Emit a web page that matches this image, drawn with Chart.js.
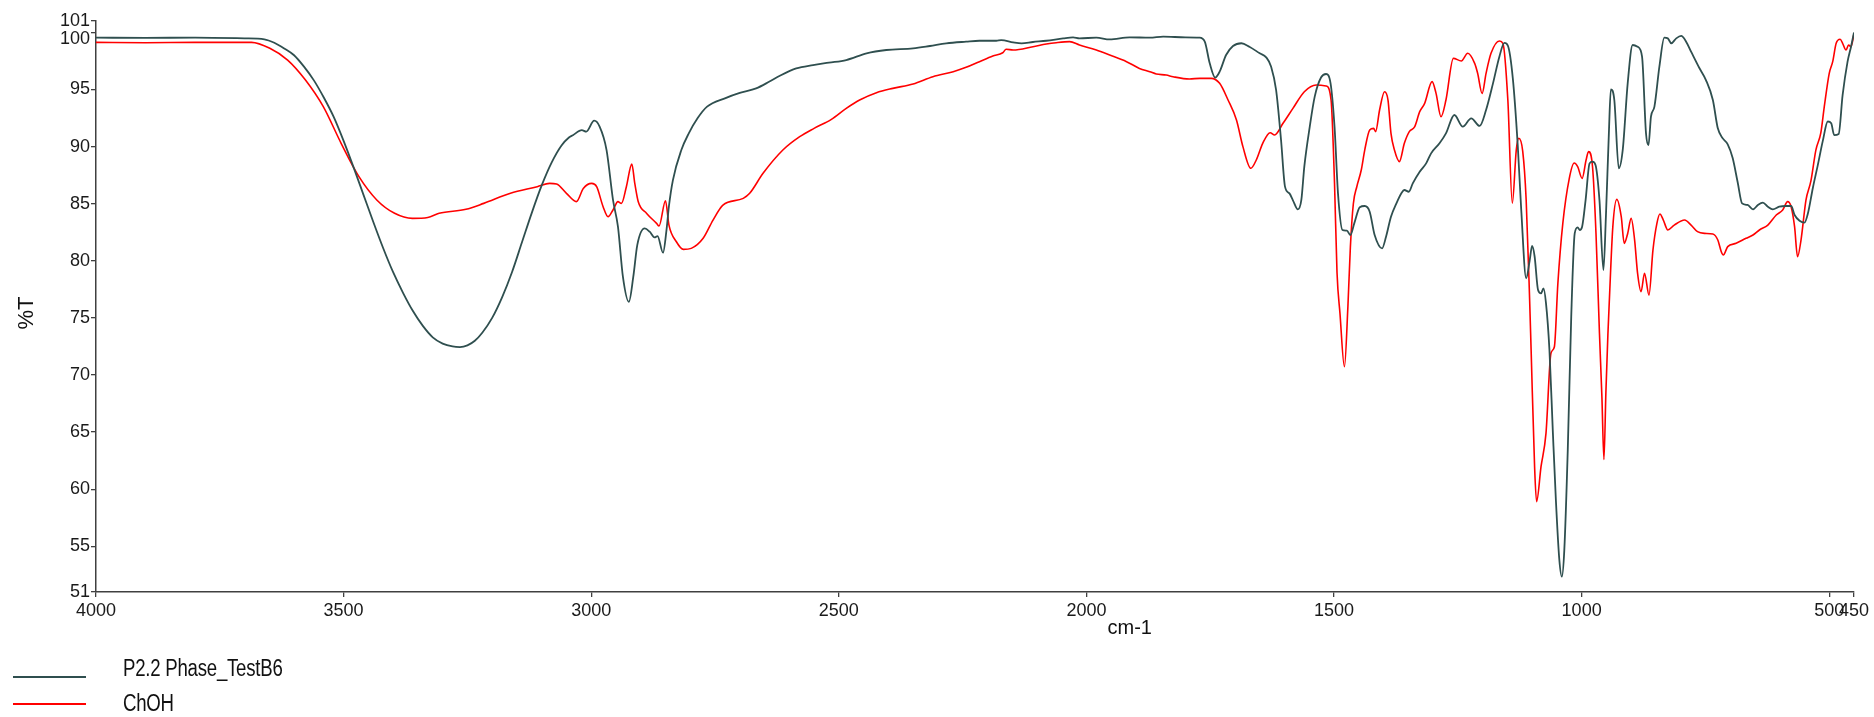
<!DOCTYPE html>
<html>
<head>
<meta charset="utf-8">
<title>FTIR spectra</title>
<script src="https://cdn.jsdelivr.net/npm/chart.js@4.4.1/dist/chart.umd.min.js"></script>
<style>
  html, body { margin: 0; padding: 0; background: #ffffff; }
  #wrap { position: relative; width: 1874px; height: 717px; overflow: hidden; }
  #chart { position: absolute; left: 0; top: 0; }
  .lg-line { position: absolute; left: 13px; width: 73px; height: 2px; }
  .lg-text {
    position: absolute; left: 123px; white-space: nowrap;
    font-family: "Liberation Sans", Arial, sans-serif; font-size: 23px; line-height: 23px;
    color: #111; transform: scaleX(0.81); transform-origin: 0 50%; letter-spacing: -0.3px;
  }
</style>
</head>
<body>
<div id="wrap">
  <canvas id="chart" width="1874" height="717"></canvas>
  <div id="legend"></div>
</div>
<script>
// Series names
const seriesNames = ['P2.2 Phase_TestB6', 'ChOH'];

// P2.2 Phase_TestB6: wavenumber (cm-1) and transmittance (%T)
const sampleWavenumbers = [
  4000, 3900, 3800, 3700, 3660, 3640, 3620, 3600, 3580, 3560, 3540, 3520, 3500, 3480, 3460, 3440,
  3420, 3400, 3380, 3360, 3340, 3320, 3300, 3280, 3265, 3250, 3235, 3220, 3200, 3180, 3160, 3140,
  3120, 3100, 3080, 3060, 3045, 3037, 3019, 3010, 2994, 2983, 2969, 2956, 2946, 2936, 2924, 2915,
  2907, 2892, 2882, 2872, 2866, 2855, 2848, 2843, 2835, 2818, 2803, 2785, 2766, 2730, 2700, 2667,
  2640, 2619, 2586, 2552, 2520, 2485, 2444, 2404, 2350, 2316, 2283, 2243, 2216, 2182, 2172, 2148,
  2131, 2108, 2081, 2047, 2027, 2014, 1980, 1953, 1913, 1872, 1845, 1800, 1772, 1761, 1751, 1740,
  1731, 1718, 1704, 1687, 1671, 1650, 1637, 1627, 1617, 1607, 1599, 1590, 1583, 1573, 1566, 1560,
  1549, 1539, 1526, 1516, 1507, 1499, 1492, 1483, 1474, 1467, 1459, 1448, 1438, 1428, 1418, 1403,
  1395, 1385, 1374, 1364, 1358, 1349, 1341, 1327, 1314, 1304, 1287, 1274, 1257, 1240, 1223, 1206,
  1193, 1179, 1166, 1156, 1149, 1139, 1129, 1122, 1112, 1105, 1100, 1095, 1088, 1082, 1077, 1072,
  1065, 1058, 1052, 1045, 1040, 1035, 1028, 1021, 1014, 1008, 1004, 999, 992, 984, 978, 972,
  964, 956, 951, 945, 941, 934, 925, 917, 907, 897, 887, 878, 870, 865, 860, 853,
  843, 833, 826, 819, 809, 799, 789, 779, 762, 749, 735, 725, 715, 705, 695, 685,
  676, 665, 654, 644, 634, 624, 614, 601, 587, 577, 570, 560, 550, 543, 533, 523,
  513, 503, 496, 490, 481, 473, 463, 456, 450
];
const sampleTransmittance = [
  99.54, 99.52, 99.55, 99.48, 99.40, 99.10, 98.60, 98.00, 97.00, 95.80, 94.30, 92.60, 90.50, 88.20, 85.80, 83.40,
  81.10, 79.00, 77.20, 75.60, 74.30, 73.30, 72.75, 72.50, 72.45, 72.60, 73.00, 73.70, 75.00, 76.80, 79.00, 81.60,
  84.20, 86.60, 88.60, 90.10, 90.80, 91.00, 91.45, 91.31, 92.27, 91.75, 89.70, 85.33, 82.99, 78.61, 76.40, 78.61,
  81.38, 82.84, 82.55, 82.05, 82.17, 80.71, 82.69, 84.80, 87.07, 89.70, 91.16, 92.50, 93.50, 94.23, 94.70, 95.10,
  95.70, 96.21, 96.85, 97.14, 97.35, 97.58, 98.17, 98.46, 98.60, 98.81, 99.04, 99.19, 99.27, 99.27, 99.33, 99.13,
  99.04, 99.16, 99.27, 99.48, 99.57, 99.48, 99.54, 99.39, 99.57, 99.54, 99.63, 99.57, 99.54, 99.19, 97.29, 96.04,
  96.56, 98.02, 98.81, 99.05, 98.75, 98.17, 97.82, 97.00, 94.96, 90.58, 86.50, 85.90, 85.30, 84.50, 85.33, 88.25,
  91.75, 94.38, 96.07, 96.36, 95.54, 91.75, 85.91, 82.70, 82.64, 82.26, 83.30, 84.70, 84.80, 84.30, 82.26, 81.09,
  82.11, 83.86, 85.03, 85.91, 86.20, 86.05, 86.78, 87.80, 88.53, 89.41, 90.29, 91.16, 92.77, 91.75, 92.48, 91.81,
  93.21, 95.54, 97.90, 99.08, 98.85, 96.00, 90.10, 84.50, 78.47, 80.00, 81.30, 80.40, 77.44, 77.15, 77.59, 76.30,
  72.19, 64.89, 59.05, 53.80, 52.34, 54.67, 63.43, 75.11, 82.40, 82.93, 82.70, 82.99, 85.32, 88.53, 88.68, 88.39,
  85.32, 79.19, 83.86, 91.16, 95.02, 94.08, 88.10, 89.71, 95.54, 98.90, 98.75, 97.88, 91.16, 90.14, 92.62, 93.50,
  97.00, 99.54, 99.48, 99.05, 99.48, 99.69, 99.19, 98.32, 96.86, 95.83, 94.08, 91.60, 90.72, 90.20, 89.00, 86.90,
  85.03, 84.89, 84.51, 84.89, 85.09, 84.74, 84.51, 84.74, 84.80, 84.80, 84.01, 83.51, 83.34, 84.16, 86.40, 88.40,
  90.50, 92.20, 92.04, 91.00, 91.10, 94.50, 97.44, 98.75, 100.0
];

// ChOH: wavenumber (cm-1) and transmittance (%T)
const chohWavenumbers = [
  4000, 3900, 3800, 3700, 3686, 3649, 3613, 3577, 3541, 3505, 3469, 3433, 3397, 3361, 3330, 3307,
  3253, 3217, 3163, 3109, 3084, 3070, 3050, 3030, 3016, 2999, 2989, 2976, 2966, 2956, 2946, 2939,
  2929, 2918, 2912, 2905, 2888, 2868, 2863, 2850, 2843, 2828, 2814, 2798, 2774, 2754, 2734, 2693,
  2680, 2653, 2613, 2579, 2550, 2515, 2485, 2458, 2424, 2391, 2350, 2310, 2269, 2243, 2216, 2189,
  2169, 2162, 2148, 2108, 2081, 2061, 2034, 2014, 1980, 1953, 1919, 1893, 1872, 1859, 1839, 1825,
  1792, 1771, 1748, 1731, 1714, 1697, 1684, 1668, 1657, 1644, 1629, 1620, 1603, 1583, 1560, 1536,
  1516, 1506, 1499, 1494, 1488, 1479, 1472, 1467, 1461, 1454, 1445, 1438, 1428, 1420, 1416, 1408,
  1398, 1391, 1385, 1378, 1368, 1358, 1348, 1337, 1327, 1317, 1302, 1294, 1284, 1274, 1259, 1243,
  1230, 1216, 1210, 1201, 1193, 1183, 1166, 1159, 1149, 1140, 1132, 1127, 1119, 1112, 1105, 1102,
  1095, 1091, 1082, 1072, 1062, 1055, 1048, 1038, 1025, 1015, 1008, 999, 991, 986, 978, 971,
  964, 959, 955, 951, 947, 944, 937, 929, 920, 914, 907, 900, 893, 887, 880, 873,
  864, 856, 848, 842, 835, 826, 813, 792, 779, 766, 752, 735, 725, 718, 714, 705,
  688, 668, 654, 641, 624, 607, 594, 584, 577, 570, 564, 557, 547, 537, 527, 517,
  510, 500, 493, 486, 478, 473, 466, 461, 456, 450
];
const chohTransmittance = [
  99.13, 99.10, 99.13, 99.13, 99.13, 98.61, 97.58, 95.83, 93.50, 90.29, 87.37, 85.33, 84.16, 83.72, 83.80, 84.16,
  84.51, 85.03, 85.91, 86.49, 86.78, 86.72, 85.91, 85.18, 86.34, 86.78, 86.49, 84.74, 83.86, 84.45, 85.18, 85.03,
  86.49, 88.47, 86.78, 85.18, 84.15, 83.28, 83.05, 85.26, 83.13, 81.67, 81.00, 81.09, 81.97, 83.57, 84.88, 85.47,
  85.91, 87.66, 89.70, 90.87, 91.60, 92.39, 93.35, 94.08, 94.72, 95.10, 95.48, 96.12, 96.56, 96.94, 97.44, 97.93,
  98.22, 98.52, 98.46, 98.75, 98.98, 99.10, 99.19, 98.90, 98.46, 98.02, 97.44, 96.85, 96.56, 96.36, 96.27, 96.12,
  95.92, 95.98, 95.98, 95.54, 94.08, 92.33, 90.00, 88.10, 88.83, 90.29, 91.22, 91.02, 92.04, 93.35, 94.81, 95.40,
  95.31, 94.08, 86.79, 79.00, 75.40, 70.73, 75.98, 81.20, 85.00, 86.49, 87.95, 89.70, 91.46, 91.60, 91.31, 93.21,
  94.81, 94.08, 91.16, 89.70, 88.69, 90.29, 91.31, 91.75, 93.06, 93.79, 95.69, 94.66, 92.62, 94.08, 97.73, 97.50,
  98.17, 97.29, 96.42, 94.66, 96.42, 98.17, 99.25, 99.05, 94.08, 85.04, 89.70, 90.73, 89.60, 85.33, 76.57, 72.19,
  61.97, 58.91, 61.97, 64.89, 71.90, 72.48, 78.02, 83.28, 87.20, 88.56, 88.24, 87.22, 88.83, 89.56, 88.24, 82.40,
  73.65, 68.00, 62.60, 68.50, 73.50, 76.57, 82.99, 85.38, 83.86, 81.53, 82.40, 83.72, 81.82, 78.90, 77.30, 78.90,
  77.00, 80.94, 83.28, 84.10, 83.57, 82.70, 83.13, 83.57, 83.13, 82.55, 82.40, 82.35, 81.82, 80.80, 80.51, 81.24,
  81.53, 81.97, 82.26, 82.70, 83.13, 84.01, 84.45, 85.18, 84.74, 82.99, 80.36, 81.82, 85.32, 87.00, 89.70, 91.20,
  93.50, 96.42, 97.44, 99.05, 99.40, 99.05, 98.46, 98.90, 98.75, 99.90
];

// Axis ticks
const xTickValues = [4000, 3500, 3000, 2500, 2000, 1500, 1000, 500, 450];
const yTickValues = [51, 55, 60, 65, 70, 75, 80, 85, 90, 95, 100, 101];
const xAxisTitle = 'cm-1';
const yAxisTitle = '%T';

const seriesColors = ['#2f4f4f', '#ff0000'];
const TICK_FONT = { family: '"Liberation Sans", Arial, sans-serif', size: 18 };

function toPoints(xs, ys) {
  return xs.map((x, i) => ({ x: x, y: ys[i] }));
}

// Axis titles and the nudged "100" tick label
const axisDecorations = {
  id: 'axisDecorations',
  afterDraw(chart) {
    const { ctx, chartArea, scales } = chart;
    ctx.save();
    ctx.fillStyle = '#111';
    ctx.textAlign = 'center';
    ctx.textBaseline = 'middle';
    ctx.font = '20px "Liberation Sans", Arial, sans-serif';
    ctx.fillText(xAxisTitle, chartArea.left + (chartArea.right - chartArea.left) * 0.588, 628);
    ctx.save();
    ctx.translate(27, 313);
    ctx.rotate(-Math.PI / 2);
    ctx.font = '22px "Liberation Sans", Arial, sans-serif';
    ctx.fillText(yAxisTitle, 0, 0);
    ctx.restore();
    ctx.font = '18px "Liberation Sans", Arial, sans-serif';
    ctx.textAlign = 'right';
    ctx.fillStyle = '#1a1a1a';
    ctx.fillText('100', chartArea.left - 6, scales.y.getPixelForValue(100) + 7);
    ctx.restore();
  }
};

const chart = new Chart(document.getElementById('chart'), {
  type: 'line',
  data: {
    datasets: [
      {
        label: seriesNames[0],
        data: toPoints(sampleWavenumbers, sampleTransmittance),
        borderColor: seriesColors[0],
        borderWidth: 1.8,
        pointRadius: 0,
        cubicInterpolationMode: 'monotone',
        fill: false
      },
      {
        label: seriesNames[1],
        data: toPoints(chohWavenumbers, chohTransmittance),
        borderColor: seriesColors[1],
        borderWidth: 1.6,
        pointRadius: 0,
        cubicInterpolationMode: 'monotone',
        fill: false
      }
    ]
  },
  options: {
    responsive: false,
    animation: false,
    devicePixelRatio: 1,
    layout: { padding: { left: 0, right: 20, top: 21, bottom: 0 } },
    plugins: { legend: { display: false }, tooltip: { enabled: false } },
    scales: {
      x: {
        type: 'linear',
        reverse: true,
        min: 450,
        max: 4000,
        afterBuildTicks: (scale) => { scale.ticks = xTickValues.map(v => ({ value: v })); },
        afterFit: (scale) => { scale.height = 125; },
        grid: { drawOnChartArea: false, drawTicks: true, tickLength: 5, color: '#404040', lineWidth: 1.3 },
        border: { display: true, color: '#404040', width: 1.5 },
        ticks: {
          autoSkip: false, maxRotation: 0, minRotation: 0, padding: 3,
          color: '#1a1a1a', font: TICK_FONT,
          callback: (v) => String(v)
        }
      },
      y: {
        type: 'linear',
        min: 51,
        max: 101,
        afterBuildTicks: (scale) => { scale.ticks = yTickValues.map(v => ({ value: v })); },
        afterFit: (scale) => { scale.width = 96; },
        grid: { drawOnChartArea: false, drawTicks: true, tickLength: 5, color: '#404040', lineWidth: 1.3 },
        border: { display: true, color: '#404040', width: 1.5 },
        ticks: {
          autoSkip: false, padding: 1,
          color: '#1a1a1a', font: TICK_FONT,
          callback: (v) => (v === 100 ? '' : String(v))
        }
      }
    }
  },
  plugins: [axisDecorations]
});

// Legend below the plot, built from the datasets
const legendRows = [
  { lineY: 677, textY: 668 },
  { lineY: 704, textY: 703 }
];
const legendEl = document.getElementById('legend');
chart.data.datasets.forEach((ds, i) => {
  const line = document.createElement('div');
  line.className = 'lg-line';
  line.style.top = (legendRows[i].lineY - 1) + 'px';
  line.style.background = ds.borderColor;
  const text = document.createElement('div');
  text.className = 'lg-text';
  text.style.top = (legendRows[i].textY - 11.5) + 'px';
  text.textContent = ds.label;
  legendEl.appendChild(line);
  legendEl.appendChild(text);
});
</script>
</body>
</html>
